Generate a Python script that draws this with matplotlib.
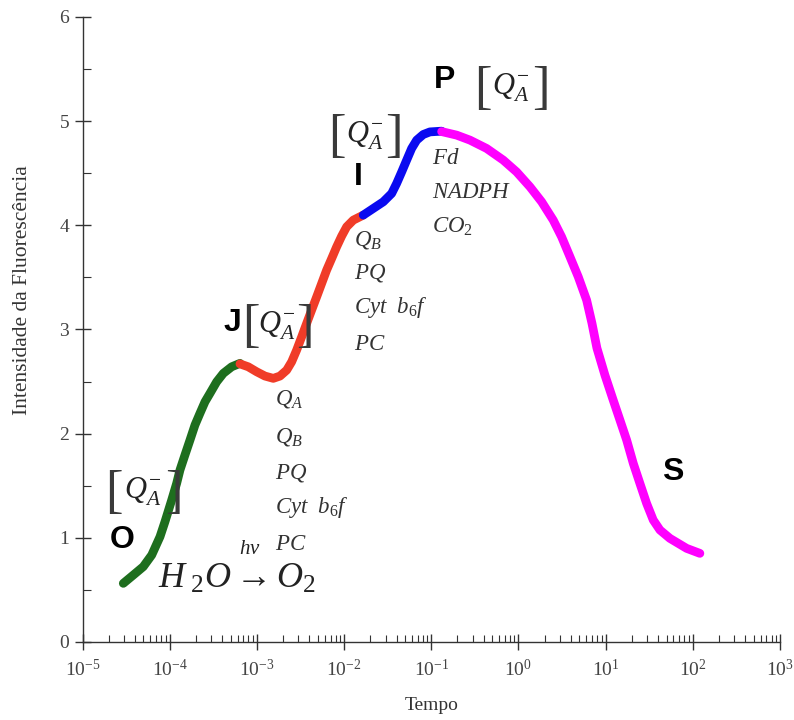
import numpy as np
import matplotlib
matplotlib.use("Agg")
import matplotlib.pyplot as plt
from matplotlib.ticker import LogLocator, FixedLocator, NullFormatter

plt.rcParams['mathtext.fontset'] = 'custom'
plt.rcParams['mathtext.rm'] = 'Liberation Serif'
plt.rcParams['mathtext.it'] = 'Liberation Serif:italic'
plt.rcParams['mathtext.bf'] = 'Liberation Serif:bold'

# ---- data (log10 time, fluorescence) ----
green_logt = [-4.532, -4.417, -4.303, -4.206, -4.111, -4.054, -3.977, -3.920, -3.882, -3.825,
              -3.767, -3.710, -3.653, -3.595, -3.538, -3.461, -3.385, -3.289, -3.194]
green_f    = [0.563, 0.643, 0.723, 0.835, 1.011, 1.155, 1.363, 1.523, 1.651, 1.795,
              1.939, 2.083, 2.195, 2.306, 2.387, 2.498, 2.579, 2.642, 2.675]

red_logt = [-3.194, -3.099, -3.002, -2.907, -2.812, -2.735, -2.658, -2.601, -2.544, -2.486, -2.429,
            -2.372, -2.314, -2.257, -2.200, -2.142, -2.085, -2.028, -1.970, -1.894, -1.780]
red_f    = [2.670, 2.642, 2.594, 2.553, 2.531, 2.553, 2.610, 2.690, 2.802, 2.930, 3.059,
            3.186, 3.314, 3.442, 3.570, 3.682, 3.794, 3.896, 3.986, 4.050, 4.098]

blue_logt = [-1.780, -1.665, -1.550, -1.454, -1.397, -1.339, -1.282, -1.225, -1.167, -1.092, -1.015, -0.881]
blue_f    = [4.098, 4.162, 4.226, 4.306, 4.402, 4.513, 4.626, 4.738, 4.818, 4.872, 4.897, 4.904]

mag_logt = [-0.881, -0.709, -0.556, -0.365, -0.174, -0.021, 0.132, 0.266, 0.399, 0.495, 0.591,
            0.686, 0.782, 0.843, 0.900, 0.992, 1.087, 1.164, 1.241, 1.317, 1.393, 1.470,
            1.546, 1.623, 1.737, 1.929, 2.081]
mag_f    = [4.900, 4.866, 4.818, 4.738, 4.626, 4.513, 4.370, 4.226, 4.050, 3.890, 3.698,
            3.506, 3.282, 3.061, 2.822, 2.562, 2.322, 2.131, 1.939, 1.715, 1.523, 1.331,
            1.171, 1.075, 0.995, 0.899, 0.851]

y_ticks = [0, 1, 2, 3, 4, 5, 6]
x_exps = [-5, -4, -3, -2, -1, 0, 1, 2, 3]
x_ticklabels = [r'$10^{%d}$' % e for e in x_exps]

segments = [
    (green_logt, green_f, '#1e6e1e'),
    (red_logt, red_f, '#f03c28'),
    (blue_logt, blue_f, '#0a0af0'),
    (mag_logt, mag_f, '#ff00ff'),
]

fig = plt.figure(figsize=(7.94, 7.20), dpi=100)
ax = fig.add_axes([82.5/794, 78/720, (780-82.5)/794, (642-17)/720])

for lt, f, c in segments:
    ax.plot(10**np.array(lt), f, color=c, lw=6.3, solid_capstyle='round',
            solid_joinstyle='round', zorder=3)

ax.set_xscale('log')
ax.set_xlim(1e-5, 1e3)
ax.set_ylim(0, 6)
ax.set_xticks([10.0**e for e in x_exps])
ax.set_xticklabels(x_ticklabels)
ax.xaxis.set_minor_locator(LogLocator(base=10, subs=np.arange(2, 10), numticks=100))
ax.xaxis.set_minor_formatter(NullFormatter())
ax.set_yticks(y_ticks)
ax.yaxis.set_minor_locator(FixedLocator([0.5, 1.5, 2.5, 3.5, 4.5, 5.5]))

for s in ['top', 'right']:
    ax.spines[s].set_visible(False)
for s in ['left', 'bottom']:
    ax.spines[s].set_color('#333333')
    ax.spines[s].set_linewidth(1.0)

ax.tick_params(axis='both', which='major', direction='inout', length=12, width=1,
               colors='#333333', labelcolor='#444444', labelsize=14)
ax.tick_params(axis='x', which='minor', direction='in', length=5, width=0.8, colors='#333333')
ax.tick_params(axis='y', which='minor', direction='in', length=6, width=0.8, colors='#333333')
ax.tick_params(axis='x', which='major', pad=6)
for lab in ax.get_yticklabels():
    lab.set_family('Liberation Serif')

ax.set_xlabel('Tempo', family='Liberation Serif', fontsize=14, color='#333333', labelpad=12)
ax.set_ylabel('Intensidade da Fluorescência', family='Liberation Serif', fontsize=15.5,
              color='#333333')
ax.yaxis.set_label_coords(-0.072, 0.563)

def ftext(px, py, s, **kw):
    fig.text(px/794, 1 - py/720, s, **kw)

# phase letters
for px, py, s in [(122, 540, 'O'), (232, 323, 'J'), (358, 177, 'I'), (445, 80, 'P'), (673, 472, 'S')]:
    ftext(px, py, s, family='Liberation Sans', fontweight='bold', fontsize=23,
          ha='center', va='center', color='black')

# bracketed Q_A^-  (left bracket x, right bracket x, centre y)
for lx, rx, cy in [(114, 174, 494), (251, 305, 328), (337, 394, 138), (483, 541, 90)]:
    ftext(lx, cy, '[', family='Liberation Serif', fontsize=38, ha='center', va='center',
          color='#3a3a3a')
    ftext(rx, cy, ']', family='Liberation Serif', fontsize=38, ha='center', va='center',
          color='#3a3a3a')
    ftext((lx + rx) / 2 - 1, cy - 2, r'$Q_{A}^{-}$', fontsize=22, ha='center', va='center',
          color='#222222')

it = dict(fontsize=16.5, ha='left', va='center', color='#333333')
for py, s in [(398, r'$Q_A$'), (437, r'$Q_B$'), (472, r'$PQ$'), (508, r'$Cyt\ \ b_6f$'), (543, r'$PC$')]:
    ftext(275, py, s, **it)
for py, s in [(240, r'$Q_B$'), (272, r'$PQ$'), (307, r'$Cyt\ \ b_6f$'), (343, r'$PC$')]:
    ftext(354, py, s, **it)
for py, s in [(157, r'$Fd$'), (192, r'$NADPH$'), (227, r'$CO_2$')]:
    ftext(432, py, s, **it)

ftext(158, 578, r'$H_{\ 2}O \rightarrow O_2$', fontsize=26, ha='left', va='center', color='#222222')
ftext(250, 548, r'$hv$', fontsize=15, ha='center', va='center', color='#222222')

fig.savefig('out.png', dpi=100)
